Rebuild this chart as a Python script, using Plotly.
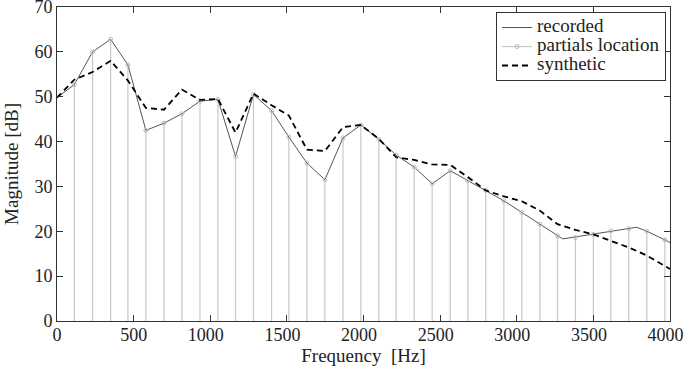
import plotly.graph_objects as go

# ---- data ----
partial_freq = [113, 232, 350, 463, 580, 698, 815, 933, 1050, 1165, 1282, 1400,
                1513, 1631, 1748, 1866, 1983, 2100, 2213, 2331, 2448, 2566, 2681,
                2798, 2916, 3033, 3151, 3266, 3383, 3500, 3614, 3731, 3849, 3966]
partial_db = [52.7, 60.0, 62.8, 57.1, 42.5, 44.1, 46.2, 49.0, 49.4, 36.7, 50.5, 46.9,
              41.0, 35.2, 31.5, 40.8, 43.7, 40.5, 37.0, 34.3, 30.6, 33.5, 31.3,
              29.1, 26.8, 24.2, 21.6, 19.0, 18.6, 19.3, 20.1, 20.6, 20.0, 18.1]

recorded_freq = [0, 113, 232, 350, 463, 580, 698, 815, 933, 1050, 1165, 1282, 1400,
                 1513, 1631, 1748, 1866, 1983, 2100, 2213, 2331, 2448, 2566, 2681,
                 2798, 2916, 3033, 3151, 3266, 3300, 3783, 3849, 3966, 4000]
recorded_db = [49.8, 52.7, 60.0, 62.8, 57.1, 42.5, 44.1, 46.2, 49.0, 49.4, 36.7, 50.5, 46.9,
               41.0, 35.2, 31.5, 40.8, 43.7, 40.5, 37.0, 34.3, 30.6, 33.5, 31.3,
               29.1, 26.8, 24.2, 21.6, 19.0, 18.3, 20.9, 20.0, 18.1, 17.5]

synthetic_freq = [0, 113, 232, 350, 463, 580, 698, 815, 933, 1050, 1165, 1282, 1400,
                  1513, 1631, 1748, 1866, 1983, 2100, 2213, 2331, 2448, 2566, 2681,
                  2798, 2916, 3033, 3151, 3266, 3383, 3500, 3614, 3731, 3849, 3966, 4000]
synthetic_db = [49.8, 53.8, 55.5, 58.0, 53.6, 47.5, 47.1, 51.6, 49.3, 49.5, 42.0, 50.7, 48.1,
                45.8, 38.2, 37.9, 43.2, 43.7, 40.6, 36.5, 35.9, 34.9, 34.8, 32.1,
                29.1, 27.8, 26.7, 24.6, 21.6, 20.3, 19.3, 17.9, 16.4, 14.6, 12.3, 11.6]

series_names = ["recorded", "partials location", "synthetic"]
x_ticks = [0, 500, 1000, 1500, 2000, 2500, 3000, 3500, 4000]
x_tick_labels = ["0", "500", "1000", "1500", "2000", "2500", "3000", "3500", "4000"]
y_ticks = [0, 10, 20, 30, 40, 50, 60, 70]
y_tick_labels = ["0", "10", "20", "30", "40", "50", "60", "70"]

FONT = "Liberation Serif, DejaVu Serif, serif"
STEM = "#c8c8c8"
TXT = "#222222"


def legend_name(s):
    return '<span style="font-size:19px">' + s + '</span>'


def x_label(s):
    # four-digit labels sit slightly left of their tick in the reference
    return s + "\u00a0\u00a0" if len(s) >= 4 else s


# stems built from the partial arrays
stem_x, stem_y = [], []
for f, m in zip(partial_freq, partial_db):
    stem_x += [f, f, None]
    stem_y += [0, m, None]

fig = go.Figure()
fig.add_trace(go.Scatter(x=stem_x, y=stem_y, mode="lines",
                         line=dict(color=STEM, width=1.2),
                         showlegend=False, hoverinfo="skip"))
fig.add_trace(go.Scatter(x=recorded_freq, y=recorded_db, mode="lines",
                         name=legend_name(series_names[0]),
                         line=dict(color="#555555", width=1)))
fig.add_trace(go.Scatter(x=[None], y=[None], mode="lines+markers",
                         name=legend_name(series_names[1]),
                         line=dict(color=STEM, width=1.2),
                         marker=dict(symbol="circle-open", size=4, color="#bbbbbb")))
fig.add_trace(go.Scatter(x=partial_freq, y=partial_db, mode="markers",
                         marker=dict(symbol="circle-open", size=4, color="#bbbbbb",
                                     line=dict(width=1)),
                         showlegend=False))
fig.add_trace(go.Scatter(x=synthetic_freq, y=synthetic_db, mode="lines",
                         name=legend_name(series_names[2]),
                         line=dict(color="black", width=1.8, dash="6px,4px")))

axis_common = dict(showgrid=False, zeroline=False, showline=True, mirror="ticks",
                   linecolor="#333333", linewidth=1, ticks="inside", ticklen=6,
                   tickcolor="#333333", automargin=False, ticklabeloverflow="allow",
                   tickfont=dict(family=FONT, size=18, color=TXT))

fig.update_xaxes(range=[0, 4000], tickvals=x_ticks,
                 ticktext=[x_label(s) for s in x_tick_labels],
                 ticklabelstandoff=-3,
                 title=dict(text="Frequency  [Hz]", font=dict(family=FONT, size=19, color=TXT),
                            standoff=4),
                 **axis_common)
fig.update_yaxes(range=[0, 70], tickvals=y_ticks, ticktext=y_tick_labels,
                 title=dict(text="Magnitude [dB]", font=dict(family=FONT, size=19, color=TXT),
                            standoff=10),
                 **axis_common)

fig.update_layout(
    width=685, height=368,
    margin=dict(l=57, r=15, t=7, b=47),
    plot_bgcolor="white", paper_bgcolor="white",
    legend=dict(x=0.9935, y=0.984, xanchor="right", yanchor="top",
                bgcolor="white", bordercolor="#333333", borderwidth=1,
                font=dict(family=FONT, size=12, color=TXT),
                tracegroupgap=0, itemwidth=30),
)

fig.write_html("out.html", config={"displayModeBar": False},
               post_script="document.body.style.margin='0';")
